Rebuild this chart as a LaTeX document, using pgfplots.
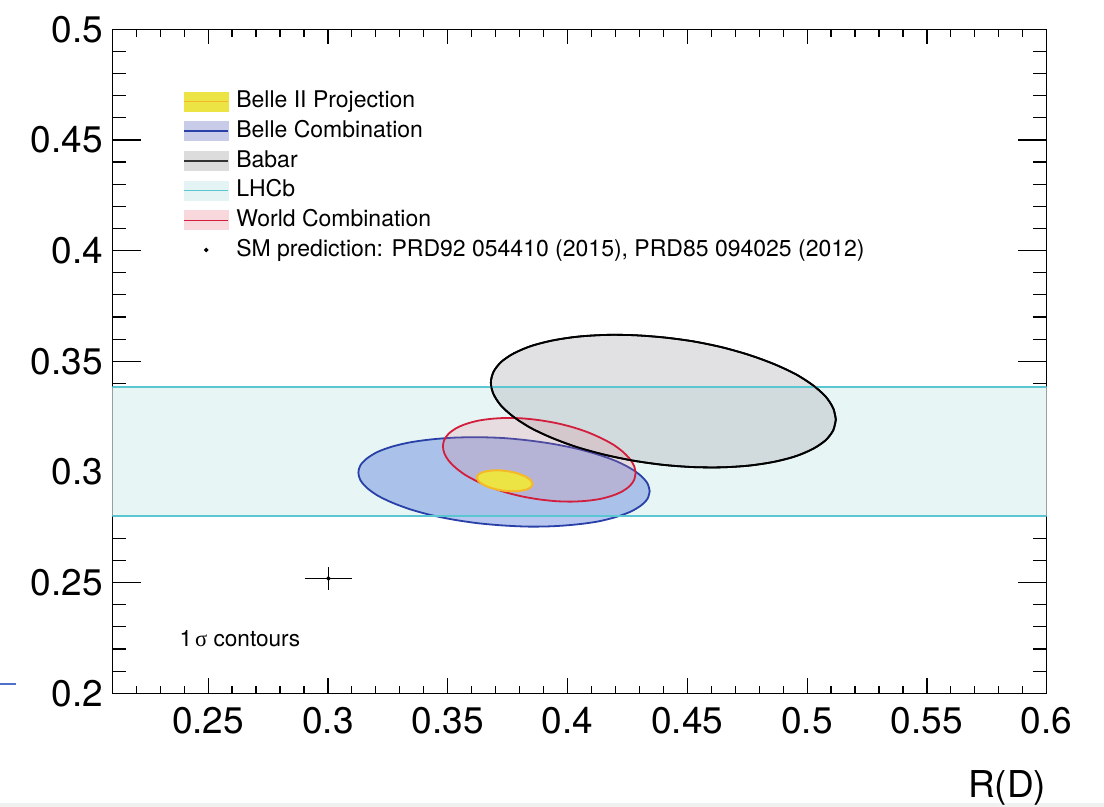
\documentclass[border=0pt]{standalone}
\usepackage{pgfplots}
\pgfplotsset{compat=1.18}
\usepackage{fontspec}
\setmainfont{TeX Gyre Heros}
\newfontfamily\symfont{Liberation Serif}
\definecolor{bandfill}{RGB}{232,245,245}
\definecolor{bandline}{RGB}{90,198,210}
\definecolor{babfill}{RGB}{168,168,175}
\definecolor{bluefill}{RGB}{77,115,217}
\definecolor{blueline}{RGB}{40,64,168}
\definecolor{redfill}{RGB}{230,128,140}
\definecolor{redline}{RGB}{210,30,60}
\definecolor{yelfill}{RGB}{236,228,68}
\definecolor{yelline}{RGB}{245,185,40}
\definecolor{lgblue}{RGB}{200,204,232}
\definecolor{lggray}{RGB}{220,220,220}
\definecolor{lgcyan}{RGB}{228,244,244}
\definecolor{lgred}{RGB}{248,216,220}
\definecolor{stray}{RGB}{80,112,200}
\begin{document}
\begin{tikzpicture}
\path[use as bounding box] (0,0) rectangle (552pt,403.5pt);
\fill[black!6] (0,0) rectangle (552pt,2pt);
\draw[stray, line width=0.6pt] (0pt,61.5pt) -- (8pt,61.5pt);
\begin{axis}[
  at={(56.15pt,56.85pt)}, anchor=south west,
  scale only axis, width=467.2pt, height=332pt,
  xmin=0.21, xmax=0.6, ymin=0.2, ymax=0.5,
  xtick={0.25,0.3,0.35,0.4,0.45,0.5,0.55,0.6},
  xticklabels={0.25,0.3,0.35,0.4,0.45,0.5,0.55,0.6},
  minor xtick={0.22,0.23,0.24,0.26,0.27,0.28,0.29,0.31,0.32,0.33,0.34,0.36,0.37,0.38,0.39,0.41,0.42,0.43,0.44,0.46,0.47,0.48,0.49,0.51,0.52,0.53,0.54,0.56,0.57,0.58,0.59},
  ytick={0.2,0.25,0.3,0.35,0.4,0.45,0.5},
  yticklabels={0.2,0.25,0.3,0.35,0.4,0.45,0.5},
  minor ytick={0.21,0.22,0.23,0.24,0.26,0.27,0.28,0.29,0.31,0.32,0.33,0.34,0.36,0.37,0.38,0.39,0.41,0.42,0.43,0.44,0.46,0.47,0.48,0.49},
  tick align=inside,
  xtick style={black, line width=0.6pt, /pgfplots/major tick length=7.5pt, /pgfplots/minor tick length=3.7pt},
  ytick style={black, line width=0.6pt, /pgfplots/major tick length=14.5pt, /pgfplots/minor tick length=7pt},
  axis line style={line width=0.7pt},
  ticklabel style={font=\fontsize{18.5}{20}\selectfont},
  xticklabel style={inner sep=0pt, yshift=-6.7pt},
  yticklabel style={inner sep=0pt, xshift=-4.5pt},
  xlabel={R(D)},
  xlabel style={at={(axis description cs:1,0)}, anchor=north east, inner sep=0pt, yshift=-38.5pt, font=\fontsize{18.5}{20}\selectfont},
  legend style={at={(0.076,0.9136)}, anchor=north west, draw=none, fill=none,
    inner sep=0pt, outer sep=0pt, row sep=0pt, column sep=3.6pt,
    font=\fontsize{11.5}{13}\selectfont,
    nodes={inner sep=0pt, text height=10.6pt, text depth=4.25pt}},
  legend cell align=left,
]
\addlegendimage{legend image code/.code={\fill[yelfill] (0pt,-4.75pt) rectangle (22pt,4.75pt); \draw[yelline,line width=0.6pt] (0pt,0pt)--(22pt,0pt);}}
\addlegendentry{Belle II Projection}
\addlegendimage{legend image code/.code={\fill[lgblue] (0pt,-4.75pt) rectangle (22pt,4.75pt); \draw[blueline,line width=0.9pt] (0pt,0pt)--(22pt,0pt);}}
\addlegendentry{Belle Combination}
\addlegendimage{legend image code/.code={\fill[lggray] (0pt,-4.75pt) rectangle (22pt,4.75pt); \draw[black!80,line width=0.7pt] (0pt,0pt)--(22pt,0pt);}}
\addlegendentry{Babar}
\addlegendimage{legend image code/.code={\fill[lgcyan] (0pt,-4.75pt) rectangle (22pt,4.75pt); \draw[bandline,line width=0.8pt] (0pt,0pt)--(22pt,0pt);}}
\addlegendentry{LHCb}
\addlegendimage{legend image code/.code={\fill[lgred] (0pt,-4.75pt) rectangle (22pt,4.75pt); \draw[redline,line width=0.7pt] (0pt,0pt)--(22pt,0pt);}}
\addlegendentry{World Combination}
\addlegendimage{legend image code/.code={\fill[black] (11pt,0pt) circle (0.9pt);}}
\addlegendentry{SM prediction: PRD92 054410 (2015), PRD85 094025 (2012)}

% LHCb band
\addplot[forget plot, fill=bandfill, draw=none, mark=none] coordinates {(0.21,0.2803) (0.6,0.2803) (0.6,0.3382) (0.21,0.3382)} -- cycle;

% Babar
\addplot[forget plot, smooth, mark=none, draw=black, line width=0.9pt, fill=babfill, fill opacity=0.35] coordinates {
(0.5120,0.3237) (0.5109,0.3288) (0.5077,0.3341) (0.5024,0.3392) (0.4952,0.3442) (0.4863,0.3487)
(0.4760,0.3528) (0.4646,0.3563) (0.4525,0.3590) (0.4400,0.3608) (0.4275,0.3618) (0.4154,0.3619)
(0.4040,0.3611) (0.3937,0.3594) (0.3848,0.3569) (0.3776,0.3536) (0.3723,0.3497) (0.3691,0.3452)
(0.3680,0.3403) (0.3691,0.3352) (0.3723,0.3299) (0.3776,0.3248) (0.3848,0.3198) (0.3937,0.3153)
(0.4040,0.3112) (0.4154,0.3078) (0.4275,0.3051) (0.4400,0.3032) (0.4525,0.3022) (0.4646,0.3021)
(0.4760,0.3029) (0.4863,0.3046) (0.4952,0.3071) (0.5024,0.3104) (0.5077,0.3143) (0.5109,0.3188)
(0.5120,0.3237)} -- cycle;

% Belle combination
\addplot[forget plot, smooth, mark=none, draw=blueline, line width=0.9pt, fill=bluefill, fill opacity=0.4] coordinates {
(0.4343,0.2913) (0.4334,0.2948) (0.4306,0.2983) (0.4262,0.3017) (0.4201,0.3050) (0.4126,0.3079)
(0.4039,0.3105) (0.3943,0.3126) (0.3841,0.3142) (0.3735,0.3153) (0.3629,0.3157) (0.3527,0.3155)
(0.3431,0.3147) (0.3344,0.3134) (0.3269,0.3115) (0.3208,0.3091) (0.3164,0.3062) (0.3136,0.3031)
(0.3127,0.2997) (0.3136,0.2962) (0.3164,0.2927) (0.3208,0.2893) (0.3269,0.2861) (0.3344,0.2831)
(0.3431,0.2805) (0.3527,0.2784) (0.3629,0.2768) (0.3735,0.2758) (0.3841,0.2753) (0.3943,0.2755)
(0.4039,0.2763) (0.4126,0.2776) (0.4201,0.2796) (0.4262,0.2820) (0.4306,0.2848) (0.4334,0.2879)
(0.4343,0.2913)} -- cycle;

% LHCb band edges
\addplot[forget plot, draw=bandline, color=bandline, mark=none, line width=1pt] coordinates {(0.21,0.3382) (0.6,0.3382)};
\addplot[forget plot, draw=bandline, color=bandline, mark=none, line width=1pt] coordinates {(0.21,0.2803) (0.6,0.2803)};

% World combination
\addplot[forget plot, smooth, mark=none, draw=redline, line width=0.9pt, fill=redfill, fill opacity=0.2] coordinates {
(0.4284,0.2995) (0.4278,0.3027) (0.4260,0.3059) (0.4230,0.3092) (0.4190,0.3124) (0.4140,0.3153)
(0.4083,0.3180) (0.4019,0.3203) (0.3952,0.3221) (0.3882,0.3234) (0.3812,0.3242) (0.3745,0.3244)
(0.3681,0.3240) (0.3624,0.3231) (0.3574,0.3216) (0.3534,0.3197) (0.3504,0.3173) (0.3486,0.3146)
(0.3480,0.3116) (0.3486,0.3084) (0.3504,0.3051) (0.3534,0.3018) (0.3574,0.2986) (0.3624,0.2957)
(0.3681,0.2930) (0.3745,0.2907) (0.3812,0.2889) (0.3882,0.2876) (0.3952,0.2868) (0.4019,0.2866)
(0.4083,0.2870) (0.4140,0.2879) (0.4190,0.2894) (0.4230,0.2913) (0.4260,0.2937) (0.4278,0.2964)
(0.4284,0.2995)} -- cycle;

% Babar outline on top
\addplot[forget plot, smooth, mark=none, draw=black, line width=0.9pt] coordinates {
(0.5120,0.3237) (0.5109,0.3288) (0.5077,0.3341) (0.5024,0.3392) (0.4952,0.3442) (0.4863,0.3487)
(0.4760,0.3528) (0.4646,0.3563) (0.4525,0.3590) (0.4400,0.3608) (0.4275,0.3618) (0.4154,0.3619)
(0.4040,0.3611) (0.3937,0.3594) (0.3848,0.3569) (0.3776,0.3536) (0.3723,0.3497) (0.3691,0.3452)
(0.3680,0.3403) (0.3691,0.3352) (0.3723,0.3299) (0.3776,0.3248) (0.3848,0.3198) (0.3937,0.3153)
(0.4040,0.3112) (0.4154,0.3078) (0.4275,0.3051) (0.4400,0.3032) (0.4525,0.3022) (0.4646,0.3021)
(0.4760,0.3029) (0.4863,0.3046) (0.4952,0.3071) (0.5024,0.3104) (0.5077,0.3143) (0.5109,0.3188)
(0.5120,0.3237)} -- cycle;

% Belle II projection
\addplot[forget plot, smooth, mark=none, draw=yelline, line width=1pt, fill=yelfill] coordinates {
(0.3854,0.2946) (0.3847,0.2962) (0.3827,0.2978) (0.3796,0.2992) (0.3758,0.3002) (0.3718,0.3007)
(0.3680,0.3006) (0.3649,0.3000) (0.3629,0.2989) (0.3622,0.2974) (0.3629,0.2958) (0.3649,0.2942)
(0.3680,0.2928) (0.3718,0.2918) (0.3758,0.2913) (0.3796,0.2914) (0.3827,0.2920) (0.3847,0.2931)
(0.3854,0.2946)} -- cycle;

% SM prediction
\addplot[forget plot, black, mark=*, mark size=0.8pt, line width=0.6pt,
  error bars/.cd, x dir=both, x explicit, y dir=both, y explicit,
  error bar style={line width=0.6pt, black},
  error mark options={mark size=2pt, line width=0.6pt, black}]
  coordinates {(0.3002,0.2519) +- (0.0082,0.0032)};

\node[anchor=base west, inner sep=0pt, font=\fontsize{11.3}{13}\selectfont] at (axis cs:0.2379,0.2213) {1{\kern1.5pt\symfont σ} contours};
\end{axis}
\end{tikzpicture}
\end{document}
